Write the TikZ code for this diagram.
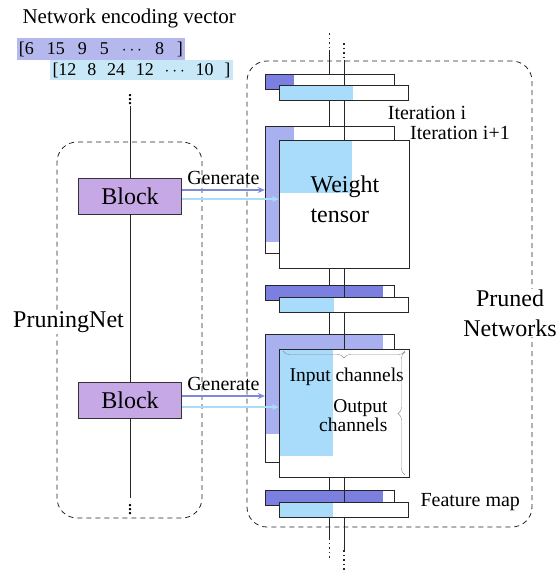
\documentclass[tikz,border=0pt]{standalone}
\usepackage{fontspec}
\setmainfont{Liberation Serif}
\usetikzlibrary{arrows.meta,decorations.pathreplacing}
\definecolor{dkblue}{HTML}{7B80E0}
\definecolor{mdblue}{HTML}{A8B0F0}
\definecolor{ltblue}{HTML}{A8DCFA}
\definecolor{vecA}{HTML}{B4B8EC}
\definecolor{vecB}{HTML}{C8E8F8}
\definecolor{blockc}{HTML}{C6A8E6}
\definecolor{genA}{HTML}{8088D8}
\begin{document}
\begin{tikzpicture}[x=1pt,y=-1pt,
big/.style ={font=\fontsize{24}{30}\selectfont},
mid/.style ={font=\fontsize{20}{22}\selectfont},
block/.style ={rectangle, draw=black!80, thick, fill=blockc,
  minimum width=103pt, minimum height=36pt, big
},
fmap/.style ={rectangle, fill=white, postaction={draw=black!85, thick},
  minimum width=129pt, minimum height=15pt, inner sep=0pt
},
wten/.style ={rectangle, fill=white, postaction={draw=black!85, thick},
  minimum width=129pt, minimum height=128pt, inner sep=0pt
},
part/.style n args={3}{path picture={
  \fill[#1] (path picture bounding box.north west)
    rectangle ([xshift=#2, yshift=-#3]path picture bounding box.north west);}
},
group/.style ={rectangle, draw=black!85, dashed, thick,
  dash pattern=on 5pt off 4pt, rounded corners=20pt
},
vline/.style ={draw=black!85, thick},
dotline/.style ={draw=black!85, line width=1.6pt, dash pattern=on 1.6pt off 3pt},
genarrow/.style ={line width=2pt, -{Stealth[length=7pt,width=6pt]}},
brace/.style ={draw=black!45, decorate, decoration={brace, mirror, amplitude=7pt}}
]
\useasboundingbox (0,0) rectangle (558,573);

% groups
\node (pnet) at (129.5,330) [group, minimum width=145pt, minimum height=376pt] {};
\node (pnw) at (389.5,294) [group, minimum width=285pt, minimum height=466pt] {};

% encoding vector
\node (title) at (19,18) [anchor=west, font=\fontsize{21}{24}\selectfont] {Network encoding vector};
\node (vec1) at (101,49) [fill=vecA, minimum width=168pt, minimum height=22pt, inner sep=0pt,
  font=\fontsize{18}{20}\selectfont] {\makebox[164pt][s]{[6 15 9 5 $\cdots$ 8 ]}};
\node (vec2) at (141.5,70) [fill=vecB, minimum width=183pt, minimum height=20pt, inner sep=0pt,
  font=\fontsize{18}{20}\selectfont] {\makebox[178pt][s]{[12 8 24 12 $\cdots$ 10 ]}};

% network lines
\coordinate (t1) at (329.5,33); \coordinate (s1) at (329.5,50);
\coordinate (e1) at (329.5,538); \coordinate (u1) at (329.5,560);
\coordinate (t2) at (344,43); \coordinate (s2) at (344,60);
\coordinate (e2) at (344,550); \coordinate (u2) at (344,570);
\draw[dotline] (t1) -- (s1);
\draw[dotline] (e1) -- (u1);
\draw[vline] (s1) -- (e1);

\node (fa1) at (329.5,81.5) [fmap, part={dkblue}{29pt}{200pt}] {};
\node (wa1) at (329.5,189.5) [wten, minimum height=127pt, part={mdblue}{29pt}{116pt}] {};
\node (fa2) at (329.5,293) [fmap, part={dkblue}{118pt}{200pt}] {};
\node (wa2) at (329.5,398) [wten, part={mdblue}{118pt}{100pt}] {};
\node (fa3) at (329.5,497.5) [fmap, part={dkblue}{118pt}{200pt}] {};

\draw[dotline] (t2) -- (s2);
\draw[dotline] (e2) -- (u2);
\draw[vline] (s2) -- (e2);

\node (fb1) at (344,92.5) [fmap, part={ltblue}{73pt}{200pt}] {};
\node (wb1) at (344,204) [wten, minimum width=130pt, part={ltblue}{73pt}{53pt}] {};
\node (fb2) at (344,305) [fmap, part={ltblue}{54pt}{200pt}] {};
\node (wb2) at (344,413) [wten, minimum width=130pt, part={ltblue}{54pt}{107pt}] {};
\node (fb3) at (344,509.5) [fmap, part={ltblue}{53pt}{200pt}] {};

% labels
\node (iti) at (427,113) [mid] {Iteration i};
\node (itj) at (460,133) [mid] {Iteration i+1};
\node (fmp) at (417,502) [mid, anchor=west] {Feature map};
\node (wtx) at (307,199) [big, anchor=west, align=left] {Weight\\tensor};
\node (inch) at (286,377) [anchor=west, font=\fontsize{19.5}{20}\selectfont] {Input channels};
\node (outch) at (391,416) [anchor=east, align=right, font=\fontsize{19.5}{19}\selectfont] {Output\\channels};
\coordinate (bra) at (283,351); \coordinate (brb) at (405,351);
\coordinate (brc) at (405,352); \coordinate (brd) at (405,475);
\draw[brace] (bra) -- (brb);
\draw[brace] (brc) -- (brd);
\node (prn) at (510,313) [big, fill=white, align=center, inner sep=1pt] {Pruned\\Networks};

% pruning net
\node (vd1) at (130,97) [font=\fontsize{20}{22}\selectfont, inner sep=1pt] {$\vdots$};
\node (vd2) at (130,507) [font=\fontsize{20}{22}\selectfont, inner sep=1pt] {$\vdots$};
\node (blk1) at (130,196) [block] {Block};
\node (blk2) at (130,400) [block] {Block};
\draw[vline] (vd1) -- (blk1);
\draw[vline] (blk1) -- (blk2);
\draw[vline] (blk2) -- (vd2);
\node (pnl) at (68.5,322) [big, fill=white, inner sep=1pt] {PruningNet};

\draw[genarrow, genA] ([yshift=6pt]blk1.east) -- ([yshift=6pt]blk1.east -| wa1.west)
  node[midway, above, mid, text=black, inner sep=4pt] {Generate};
\draw[genarrow, ltblue] ([yshift=-3pt]blk1.east) -- ([yshift=-3pt]blk1.east -| wb1.west);
\draw[genarrow, genA] ([yshift=4pt]blk2.east) -- ([yshift=4pt]blk2.east -| wa2.west)
  node[midway, above, mid, text=black, inner sep=4pt] {Generate};
\draw[genarrow, ltblue] ([yshift=-7pt]blk2.east) -- ([yshift=-7pt]blk2.east -| wb2.west);
\end{tikzpicture}
\end{document}
